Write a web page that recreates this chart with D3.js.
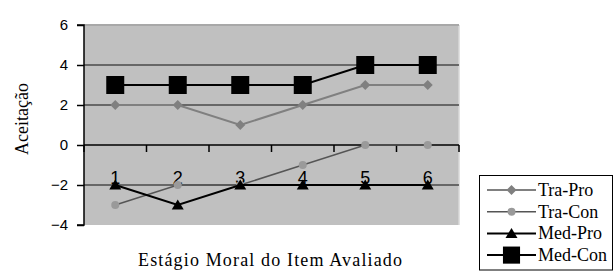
<!DOCTYPE html>
<html><head><meta charset="utf-8">
<script src="https://cdn.jsdelivr.net/npm/d3@7"></script>
<style>body{margin:0;background:#fff}svg{display:block}
.sans{font-family:'Liberation Sans',Arial,sans-serif}
.serif{font-family:'Liberation Serif','Times New Roman',serif}
</style>
</head><body>
<svg id="c" width="614" height="271"></svg>
<script>
const categories = ["1","2","3","4","5","6"];
const traPro = [2, 2, 1, 2, 3, 3];
const traCon = [-3, -2, -2, -1, 0, 0];
const medPro = [-2, -3, -2, -2, -2, -2];
const medCon = [3, 3, 3, 3, 4, 4];
const yTicks = [-4, -2, 0, 2, 4, 6];
const seriesNames = ["Tra-Pro", "Tra-Con", "Med-Pro", "Med-Con"];

const series = [
  {name: seriesNames[0], values: traPro, line: "#808080", lw: 2, marker: "diamond", fill: "#808080"},
  {name: seriesNames[1], values: traCon, line: "#555555", lw: 1.5, marker: "circle", fill: "#9a9a9a"},
  {name: seriesNames[2], values: medPro, line: "#000000", lw: 2, marker: "triangle", fill: "#000000"},
  {name: seriesNames[3], values: medCon, line: "#000000", lw: 2, marker: "square", fill: "#000000"}
];

const svg = d3.select("#c");
const L = 84, R = 459, T = 25, B = 225;
const x = d3.scaleBand().domain(categories).range([L, R]);
const y = d3.scaleLinear().domain([-4, 6]).range([B, T]);

svg.append("rect").attr("x", L).attr("y", T).attr("width", R - L).attr("height", B - T).attr("fill", "#c0c0c0");
svg.append("line").attr("x1", R).attr("x2", R).attr("y1", T).attr("y2", B).attr("stroke", "#d8d8d8").attr("stroke-width", 1.5);

svg.append("g").selectAll("line").data(yTicks.filter(d => d !== 0 && d !== -4)).join("line")
  .attr("x1", L).attr("x2", R).attr("y1", d => y(d)).attr("y2", d => y(d))
  .attr("stroke", d => d === 6 ? "#a8a8a8" : "#4a4a4a").attr("stroke-width", d => d === 6 ? 2 : 1.5);

const yAxis = d3.axisLeft(y).tickValues(yTicks).tickSize(7).tickPadding(9);
const gy = svg.append("g").attr("transform", `translate(${L},0)`).call(yAxis);
gy.attr("font-family", null).attr("font-size", null);
gy.select(".domain").attr("stroke", "#000").attr("stroke-width", 1.5).attr("d", `M-7,${T}H0V${B}H-7`);
gy.selectAll(".tick line").attr("stroke", "#000").attr("stroke-width", 1.5);
gy.selectAll(".tick text").attr("class", "sans").style("font-size", "15px").attr("fill", "#000");

const gx = svg.append("g");
gx.append("line").attr("x1", L).attr("x2", R).attr("y1", y(0)).attr("y2", y(0)).attr("stroke", "#000").attr("stroke-width", 1.5);
const bounds = categories.map(c => x(c) + x.bandwidth()).concat([x(categories[0])]);
gx.selectAll("line.t").data(bounds).join("line").attr("class", "t")
  .attr("x1", d => d).attr("x2", d => d).attr("y1", y(0)).attr("y2", y(0) + 7)
  .attr("stroke", "#000").attr("stroke-width", 1.5);

svg.append("g").selectAll("text").data(categories).join("text")
  .attr("x", d => x(d) + x.bandwidth() / 2).attr("y", y(-2) - 1)
  .attr("text-anchor", "middle").attr("class", "sans")
  .style("font-size", "18px").text(d => d);

function drawMarker(g, type, cx, cy, fill, scale) {
  scale = scale || 1;
  if (type === "diamond") {
    const s = 5 * scale;
    g.append("path").attr("d", `M${cx},${cy - s}L${cx + s},${cy}L${cx},${cy + s}L${cx - s},${cy}Z`).attr("fill", fill);
  } else if (type === "circle") {
    g.append("circle").attr("cx", cx).attr("cy", cy).attr("r", 4 * scale).attr("fill", fill);
  } else if (type === "triangle") {
    const w = 6 * scale, h = 10 * scale;
    g.append("path").attr("d", `M${cx},${cy - h * 0.55}L${cx + w},${cy + h * 0.45}L${cx - w},${cy + h * 0.45}Z`).attr("fill", fill);
  } else if (type === "square") {
    const s = 9 * scale;
    g.append("rect").attr("x", cx - s).attr("y", cy - s).attr("width", 2 * s).attr("height", 2 * s).attr("fill", fill);
  }
}

const line = d3.line().x((d, i) => x(categories[i]) + x.bandwidth() / 2).y(d => y(d));
series.forEach(s => {
  const g = svg.append("g");
  g.append("path").attr("d", line(s.values)).attr("fill", "none").attr("stroke", s.line).attr("stroke-width", s.lw);
  s.values.forEach((v, i) => drawMarker(g, s.marker, x(categories[i]) + x.bandwidth() / 2, y(v), s.fill));
});

svg.append("text").attr("transform", `translate(28,119) rotate(-90)`).attr("text-anchor", "middle")
  .attr("class", "serif").style("font-size", "18px").text("Aceitação");
svg.append("text").attr("x", 138).attr("y", 266).attr("textLength", 264).attr("lengthAdjust", "spacing")
  .attr("class", "serif").style("font-size", "18px").text("Estágio Moral do Item Avaliado");

const lg = svg.append("g");
lg.append("rect").attr("x", 479.5).attr("y", 175.5).attr("width", 133).attr("height", 94.5).attr("fill", "#fff").attr("stroke", "#000").attr("stroke-width", 1);
series.forEach((s, i) => {
  const cy = 190 + i * 21.7;
  lg.append("line").attr("x1", 487).attr("x2", 536).attr("y1", cy).attr("y2", cy).attr("stroke", s.line).attr("stroke-width", s.lw);
  drawMarker(lg, s.marker, 511.5, cy, s.fill, s.marker === "square" ? 0.95 : 1);
  lg.append("text").attr("x", 538).attr("y", cy + 6).attr("class", "serif")
    .style("font-size", "18px").text(s.name);
});
</script>
</body></html>
